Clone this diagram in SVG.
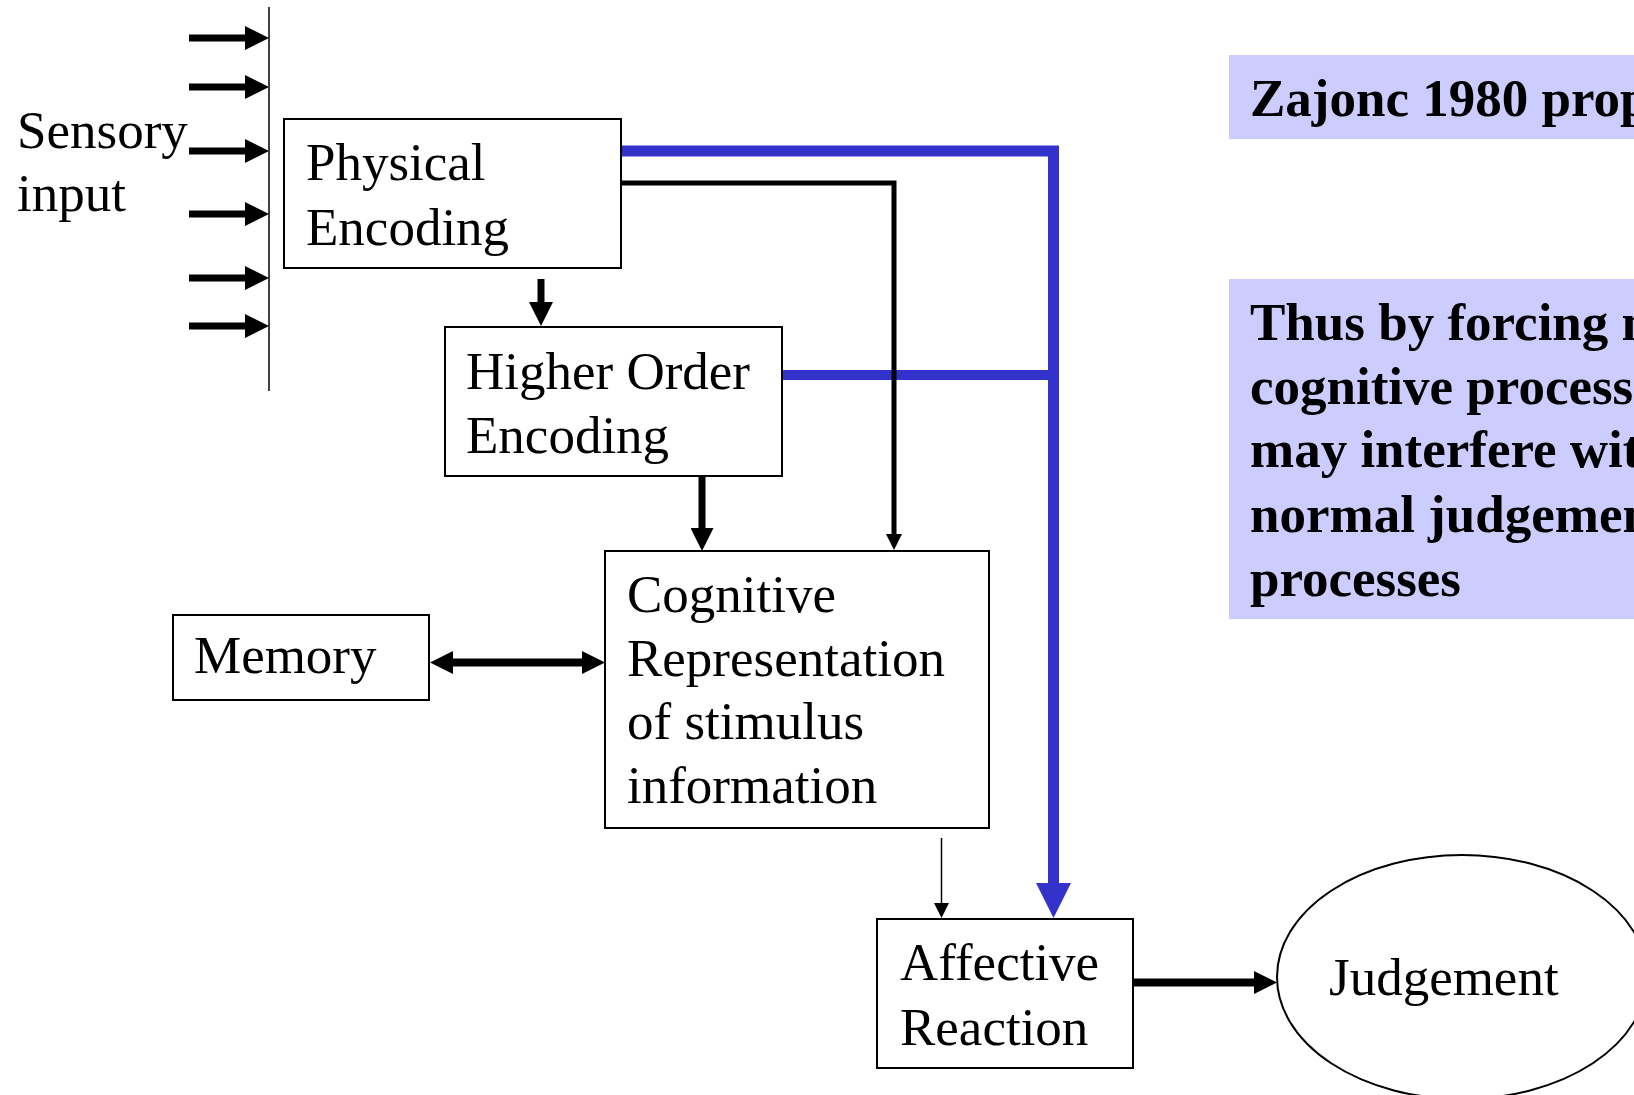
<svg xmlns="http://www.w3.org/2000/svg" width="1634" height="1095" viewBox="0 0 1634 1095">
<style>
.t{font-family:"Liberation Serif","Times New Roman",serif;font-size:53px;fill:#000}
.b{font-weight:bold}
.box{fill:#fff;stroke:#000;stroke-width:2}
.note{fill:#ccccff}
.blk{fill:none;stroke:#000}
.blu{fill:none;stroke:#3333cc}
</style>
<defs>
<marker id="ah24" markerUnits="userSpaceOnUse" markerWidth="24" markerHeight="24" refX="0" refY="12" orient="auto-start-reverse"><path d="M0,0 L24,12 L0,24 z" fill="#000"/></marker>
<marker id="ah22" markerUnits="userSpaceOnUse" markerWidth="23" markerHeight="23" refX="0" refY="11.5" orient="auto-start-reverse"><path d="M0,0 L23,11.5 L0,23 z" fill="#000"/></marker>
<marker id="ah16" markerUnits="userSpaceOnUse" markerWidth="16" markerHeight="16" refX="0" refY="8" orient="auto"><path d="M0,0 L16,8 L0,16 z" fill="#000"/></marker>
<marker id="ah15" markerUnits="userSpaceOnUse" markerWidth="15" markerHeight="15" refX="0" refY="7.5" orient="auto"><path d="M0,0 L15,7.5 L0,15 z" fill="#000"/></marker>
<marker id="ahb" markerUnits="userSpaceOnUse" markerWidth="35" markerHeight="35" refX="0" refY="17.5" orient="auto"><path d="M0,0 L35,17.5 L0,35 z" fill="#3333cc"/></marker>
</defs>

<g id="sensory-input">
<line x1="269" y1="7" x2="269" y2="391" stroke="#000" stroke-width="1.5"/>
<text class="t" x="17" y="148">Sensory</text>
<text class="t" x="17" y="211">input</text>
</g>

<g id="note-title">
<rect class="note" x="1229" y="55" width="410" height="84"/>
<text class="t b" x="1250" y="116">Zajonc 1980 prop</text>
</g>

<g id="note-body">
<rect class="note" x="1229" y="279" width="410" height="340"/>
<text class="t b" x="1250" y="340">Thus by forcing m</text>
<text class="t b" x="1250" y="404">cognitive process</text>
<text class="t b" x="1250" y="467">may interfere wit</text>
<text class="t b" x="1250" y="532">normal judgemen</text>
<text class="t b" x="1250" y="596">processes</text>
</g>

<g id="connectors">
<g stroke="#000" stroke-width="7" marker-end="url(#ah24)">
<line x1="189" y1="38" x2="245" y2="38"/>
<line x1="189" y1="87" x2="245" y2="87"/>
<line x1="189" y1="151" x2="245" y2="151"/>
<line x1="189" y1="214" x2="245" y2="214"/>
<line x1="189" y1="278" x2="245" y2="278"/>
<line x1="189" y1="326" x2="245" y2="326"/>
</g>
<line x1="541" y1="279" x2="541" y2="302" stroke="#000" stroke-width="7" marker-end="url(#ah24)"/>
<line x1="702" y1="471" x2="702" y2="528" stroke="#000" stroke-width="7" marker-end="url(#ah22)"/>
<line x1="453" y1="662.5" x2="582" y2="662.5" stroke="#000" stroke-width="8" marker-start="url(#ah22)" marker-end="url(#ah22)"/>
<line x1="1133" y1="982.5" x2="1254" y2="982.5" stroke="#000" stroke-width="8" marker-end="url(#ah22)"/>
<polyline class="blu" points="621,151 1053.5,151 1053.5,883" stroke-width="11" marker-end="url(#ahb)"/>
<line class="blu" x1="782" y1="375" x2="1050" y2="375" stroke-width="10"/>
<polyline class="blk" points="621,183 894,183 894,534" stroke-width="5" marker-end="url(#ah16)"/>
<line x1="941.5" y1="838" x2="941.5" y2="903" stroke="#000" stroke-width="1.5" marker-end="url(#ah15)"/>
</g>

<g id="physical-encoding">
<rect class="box" x="284" y="119" width="337" height="149"/>
<text class="t" x="306" y="180">Physical</text>
<text class="t" x="306" y="245">Encoding</text>
</g>

<g id="higher-order-encoding">
<rect class="box" x="445" y="327" width="337" height="149"/>
<text class="t" x="466" y="389">Higher Order</text>
<text class="t" x="466" y="453">Encoding</text>
</g>

<g id="cognitive-representation">
<rect class="box" x="605" y="551" width="384" height="277"/>
<text class="t" x="627" y="612">Cognitive</text>
<text class="t" x="627" y="676">Representation</text>
<text class="t" x="627" y="739">of stimulus</text>
<text class="t" x="627" y="803">information</text>
</g>

<g id="memory">
<rect class="box" x="173" y="615" width="256" height="85"/>
<text class="t" x="194" y="673">Memory</text>
</g>

<g id="affective-reaction">
<rect class="box" x="877" y="919" width="256" height="149"/>
<text class="t" x="900" y="980">Affective</text>
<text class="t" x="900" y="1045">Reaction</text>
</g>

<g id="judgement">
<ellipse cx="1462" cy="977" rx="185" ry="122" fill="#fff" stroke="#000" stroke-width="2"/>
<text class="t" x="1329" y="995">Judgement</text>
</g>
</svg>
